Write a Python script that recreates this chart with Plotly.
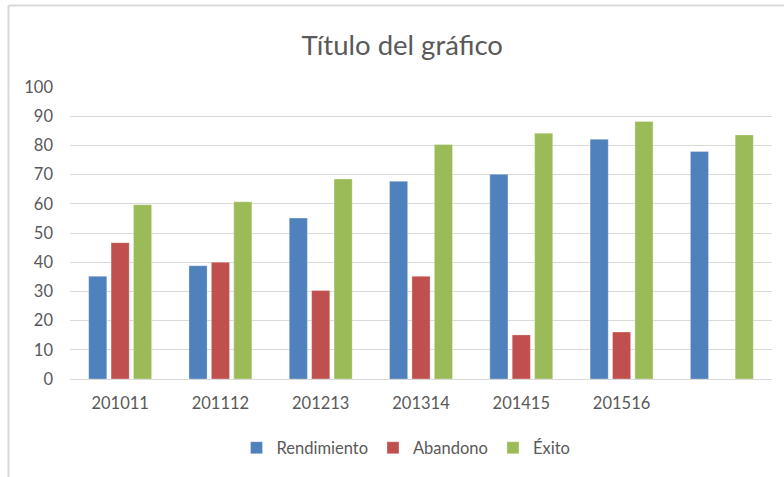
import plotly.graph_objects as go

categories = ["201011", "201112", "201213", "201314", "201415", "201516", ""]
rendimiento = [35.2, 38.8, 55.1, 67.7, 70.1, 82.1, 77.9]
abandono = [46.7, 40.0, 30.3, 35.2, 15.1, 16.1, None]
exito = [59.7, 60.7, 68.5, 80.3, 84.2, 88.2, 83.6]
y_ticks = list(range(0, 101, 10))

W, H = 784, 477
ML, MR, MT, MB = 70, 12, 87, 98
pw, ph = W - ML - MR, H - MT - MB

def px_x(x):
    return (x - ML) / pw

def px_y(y):
    return (H - MB - y) / ph

FONT = "Lato"
GREY = "#595959"
xs = list(range(len(categories)))

fig = go.Figure()
for name, vals, col in [("Rendimiento", rendimiento, "#4F81BD"),
                        ("Abandono", abandono, "#C0504D"),
                        ("Éxito", exito, "#9BBB59")]:
    fig.add_trace(go.Bar(x=xs, y=vals, name=name, marker_color=col,
                         marker_line=dict(width=0.6, color="rgba(255,255,255,0.5)")))

fig.update_layout(
    width=W, height=H,
    margin=dict(l=ML, r=MR, t=MT, b=MB),
    paper_bgcolor="white", plot_bgcolor="white",
    barmode="group", bargap=0.33, bargroupgap=0.19,
    font=dict(family=FONT, color=GREY, size=16.5),
    title=dict(text="Título del gráfico", x=0.513, xref="container", xanchor="center",
               y=1 - 45 / H, yref="container", yanchor="middle",
               font=dict(family=FONT, size=27.5, color=GREY)),
    legend=dict(orientation="h", x=px_x(406), xanchor="center", y=px_y(448), yanchor="middle",
                font=dict(family=FONT, size=16.5, color=GREY), traceorder="normal",
                itemwidth=30),
    xaxis=dict(range=[-0.5, len(categories) - 0.5], tickmode="array", tickvals=xs,
               ticktext=categories, showgrid=False, zeroline=False, showline=True,
               linecolor="#D9D9D9", linewidth=1, ticks="", ticklabelstandoff=9,
               tickfont=dict(size=16.5, color=GREY), fixedrange=True),
    yaxis=dict(range=[0, 100], tickmode="array", tickvals=y_ticks, showgrid=True,
               gridcolor="#D9D9D9", gridwidth=1, zeroline=False, showline=False,
               ticks="", ticklabelstandoff=16, tickfont=dict(size=16.5, color=GREY),
               fixedrange=True),
    shapes=[
        dict(type="line", xref="paper", yref="paper", x0=px_x(8.5), x1=px_x(784),
             y0=px_y(5.5), y1=px_y(5.5), line=dict(color="#D9D9D9", width=2)),
        dict(type="line", xref="paper", yref="paper", x0=px_x(8.5), x1=px_x(8.5),
             y0=px_y(5.5), y1=px_y(477), line=dict(color="#D9D9D9", width=2)),
    ],
    showlegend=True,
)

fig.write_html("out.html")
